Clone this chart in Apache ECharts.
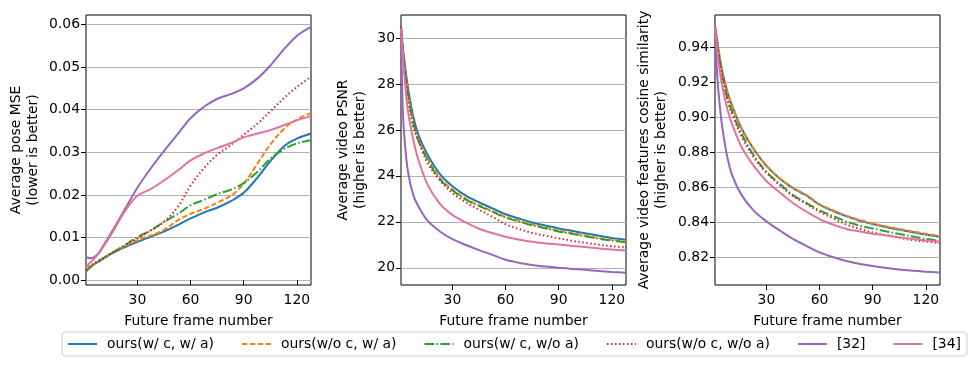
<!DOCTYPE html>
<html>
<head>
<meta charset="utf-8">
<script src="https://cdn.jsdelivr.net/npm/echarts@6/dist/echarts.min.js"></script>
<style>
  html, body { margin: 0; padding: 0; background: #fff; }
  #chart { width: 973px; height: 367px; }
</style>
</head>
<body>
<div id="chart"></div>
<script>
const frames = [1, 2, 3, 5, 8, 11, 16, 23, 30, 38, 45, 53, 60, 68, 75, 83, 90, 98, 105, 113, 120, 128];
const methods = ["ours(w/ c, w/ a)", "ours(w/o c, w/ a)", "ours(w/ c, w/o a)", "ours(w/o c, w/o a)", "[32]", "[34]"];
const xTicks = [30, 60, 90, 120];

// pose MSE
const mseWcWa = [0.0022, 0.0026, 0.0030, 0.0036, 0.0044, 0.0052, 0.0064, 0.0078, 0.0090, 0.0103, 0.0114, 0.0130, 0.0145, 0.0160, 0.0170, 0.0186, 0.0205, 0.0242, 0.0279, 0.0315, 0.0332, 0.0344];
const mseWoWa = [0.0022, 0.0026, 0.0030, 0.0036, 0.0044, 0.0052, 0.0065, 0.0080, 0.0094, 0.0106, 0.0118, 0.0141, 0.0156, 0.0168, 0.0182, 0.0199, 0.0226, 0.0275, 0.0318, 0.0356, 0.0377, 0.0392];
const mseWcWo = [0.0020, 0.0025, 0.0029, 0.0036, 0.0044, 0.0052, 0.0065, 0.0083, 0.0101, 0.0118, 0.0137, 0.0156, 0.0176, 0.0189, 0.0202, 0.0213, 0.0228, 0.0255, 0.0285, 0.0308, 0.0321, 0.0329];
const mseWoWo = [0.0024, 0.0028, 0.0032, 0.0038, 0.0046, 0.0053, 0.0065, 0.0082, 0.0098, 0.0118, 0.0137, 0.0173, 0.0222, 0.0265, 0.0294, 0.0318, 0.0341, 0.0368, 0.0396, 0.0428, 0.0453, 0.0477];
const mse32 = [0.0055, 0.0053, 0.0052, 0.0053, 0.0063, 0.0083, 0.0117, 0.0167, 0.0217, 0.0265, 0.0303, 0.0344, 0.0380, 0.0408, 0.0425, 0.0437, 0.0450, 0.0474, 0.0503, 0.0543, 0.0573, 0.0594];
const mse34 = [0.0030, 0.0035, 0.0040, 0.0048, 0.0062, 0.0080, 0.0113, 0.0162, 0.0198, 0.0215, 0.0234, 0.0258, 0.0281, 0.0298, 0.0310, 0.0322, 0.0335, 0.0344, 0.0352, 0.0364, 0.0375, 0.0385];
const mseTicks = [0, 0.01, 0.02, 0.03, 0.04, 0.05, 0.06];

// video PSNR
const psnrWcWa = [30.5, 29.6, 28.95, 27.8, 26.55, 25.75, 24.92, 24.08, 23.55, 23.12, 22.85, 22.57, 22.33, 22.13, 21.97, 21.83, 21.71, 21.6, 21.5, 21.39, 21.3, 21.22];
const psnrWoWa = [30.5, 29.5, 28.8, 27.6, 26.35, 25.55, 24.75, 23.9, 23.4, 22.98, 22.72, 22.45, 22.22, 22.03, 21.88, 21.74, 21.61, 21.5, 21.4, 21.29, 21.21, 21.14];
const psnrWcWo = [30.5, 29.5, 28.75, 27.55, 26.3, 25.5, 24.7, 23.85, 23.37, 22.95, 22.69, 22.42, 22.19, 22.0, 21.85, 21.71, 21.58, 21.47, 21.37, 21.26, 21.18, 21.11];
const psnrWoWo = [30.5, 29.4, 28.6, 27.3, 26.1, 25.5, 24.55, 23.8, 23.26, 22.83, 22.53, 22.2, 21.9, 21.68, 21.52, 21.39, 21.28, 21.17, 21.09, 21.0, 20.94, 20.88];
const psnr32 = [30.3, 26.9, 25.6, 24.15, 23.15, 22.65, 22.05, 21.58, 21.25, 20.98, 20.77, 20.55, 20.35, 20.21, 20.12, 20.05, 20.0, 19.95, 19.91, 19.86, 19.82, 19.78];
const psnr34 = [30.4, 29.2, 28.3, 26.78, 25.55, 24.65, 23.62, 22.78, 22.3, 21.95, 21.7, 21.5, 21.35, 21.22, 21.13, 21.06, 21.01, 20.95, 20.9, 20.84, 20.79, 20.75];
const psnrTicks = [20, 22, 24, 26, 28, 30];

// video features cosine similarity
const cosWcWa = [0.9517, 0.945, 0.938, 0.9265, 0.9143, 0.9055, 0.8935, 0.8815, 0.8722, 0.8645, 0.8595, 0.855, 0.85, 0.8463, 0.8435, 0.8408, 0.839, 0.8372, 0.8358, 0.8343, 0.833, 0.8317];
const cosWoWa = [0.9517, 0.9452, 0.9383, 0.9268, 0.9146, 0.9058, 0.8938, 0.8818, 0.8725, 0.8648, 0.8598, 0.8553, 0.8503, 0.8466, 0.8438, 0.8412, 0.8393, 0.8376, 0.8362, 0.8347, 0.8334, 0.8321];
const cosWcWo = [0.9517, 0.944, 0.9365, 0.924, 0.911, 0.902, 0.8905, 0.878, 0.8688, 0.8615, 0.8555, 0.8508, 0.8468, 0.8434, 0.8405, 0.838, 0.8364, 0.8347, 0.8333, 0.8318, 0.8305, 0.8294];
const cosWoWo = [0.9517, 0.944, 0.936, 0.9235, 0.91, 0.901, 0.889, 0.877, 0.8683, 0.8608, 0.855, 0.8503, 0.846, 0.8422, 0.8388, 0.8362, 0.8342, 0.8325, 0.8311, 0.8298, 0.829, 0.8282];
const cos32 = [0.951, 0.928, 0.914, 0.895, 0.877, 0.866, 0.8555, 0.8465, 0.8405, 0.835, 0.8305, 0.8263, 0.8228, 0.82, 0.8179, 0.8162, 0.815, 0.8139, 0.8131, 0.8123, 0.8118, 0.8113];
const cos34 = [0.9515, 0.941, 0.931, 0.9185, 0.9045, 0.895, 0.883, 0.872, 0.8636, 0.8567, 0.851, 0.8458, 0.8418, 0.8385, 0.8362, 0.8347, 0.8335, 0.8324, 0.8314, 0.8304, 0.8296, 0.8289];
const cosTicks = [0.82, 0.84, 0.86, 0.88, 0.90, 0.92, 0.94];

const colors = ["#1f77b4", "#ff7f0e", "#2ca02c", "#d62728", "#9467bd", "#e0739f"];
const dashes = ["solid", [5.5, 2.4], [9.6, 2.4, 1.5, 2.4], [1.5, 2.5], "solid", "solid"];
const FONT = "DejaVu Sans";

const panels = [
  { data: [mseWcWa, mseWoWa, mseWcWo, mseWoWo, mse32, mse34], ticks: mseTicks, min: -0.0011, max: 0.0622,
    fmt: (v) => v.toFixed(2), name: "Average pose MSE\n(lower is better)", left: 86, gap: 44 },
  { data: [psnrWcWa, psnrWoWa, psnrWcWo, psnrWoWo, psnr32, psnr34], ticks: psnrTicks, min: 19.25, max: 31.0,
    fmt: (v) => String(v), name: "Average video PSNR\n(higher is better)", left: 401, gap: 32 },
  { data: [cosWcWa, cosWoWa, cosWcWo, cosWoWo, cos32, cos34], ticks: cosTicks, min: 0.8042, max: 0.9583,
    fmt: (v) => v.toFixed(2), name: "Average video features cosine similarity\n(higher is better)", left: 715, gap: 45 },
];

const chart = echarts.init(document.getElementById("chart"), null, { renderer: "canvas" });

const grid = [], xAxis = [], yAxis = [], series = [];
panels.forEach((p, i) => {
  grid.push({ left: p.left, top: 15, width: 225, height: 270, show: true,
    borderColor: "#000", borderWidth: 1, backgroundColor: "transparent" });
  xAxis.push({
    type: "value", gridIndex: i, min: 1, max: 128,
    name: "Future frame number", nameLocation: "middle", nameGap: 29,
    nameTextStyle: { fontFamily: FONT, fontSize: 13.9, color: "#000" },
    axisLine: { show: false },
    axisTick: { show: true, length: 5, customValues: xTicks, lineStyle: { color: "#000" } },
    axisLabel: { customValues: xTicks, margin: 8, fontFamily: FONT, fontSize: 13.9, color: "#000" },
    splitLine: { show: false },
  });
  yAxis.push({
    type: "value", gridIndex: i, min: p.min, max: p.max,
    name: p.name, nameLocation: "middle", nameGap: p.gap, nameRotate: 90,
    nameTextStyle: { fontFamily: FONT, fontSize: 13.9, color: "#000", lineHeight: 17, align: "center" },
    axisLine: { show: false },
    axisTick: { show: true, length: 5, customValues: p.ticks, lineStyle: { color: "#000" } },
    axisLabel: { customValues: p.ticks, margin: 6, fontFamily: FONT, fontSize: 13.9, color: "#000", formatter: p.fmt },
    splitLine: { show: true, lineStyle: { color: "#b0b0b0", width: 1 } },
  });
  p.data.forEach((vals, j) => {
    series.push({
      type: "line", name: methods[j], xAxisIndex: i, yAxisIndex: i,
      data: frames.map((f, k) => [f, vals[k]]),
      symbol: "none", smooth: 0.35, clip: true,
      lineStyle: { color: colors[j], width: 2, type: dashes[j] },
      itemStyle: { color: colors[j] },
      animation: false,
    });
  });
});

chart.setOption({
  animation: false,
  grid, xAxis, yAxis, series,
  legend: {
    data: methods, left: 62, top: 332, orient: "horizontal",
    itemWidth: 29, itemHeight: 14, itemGap: 27,
    padding: [5, 6, 5, 5],
    borderColor: "#cccccc", borderWidth: 1, borderRadius: 3,
    itemStyle: { opacity: 0 },
    textStyle: { fontFamily: FONT, fontSize: 13.9, color: "#000", padding: [0, 0, 0, 5] },
  },
});
</script>
</body>
</html>
